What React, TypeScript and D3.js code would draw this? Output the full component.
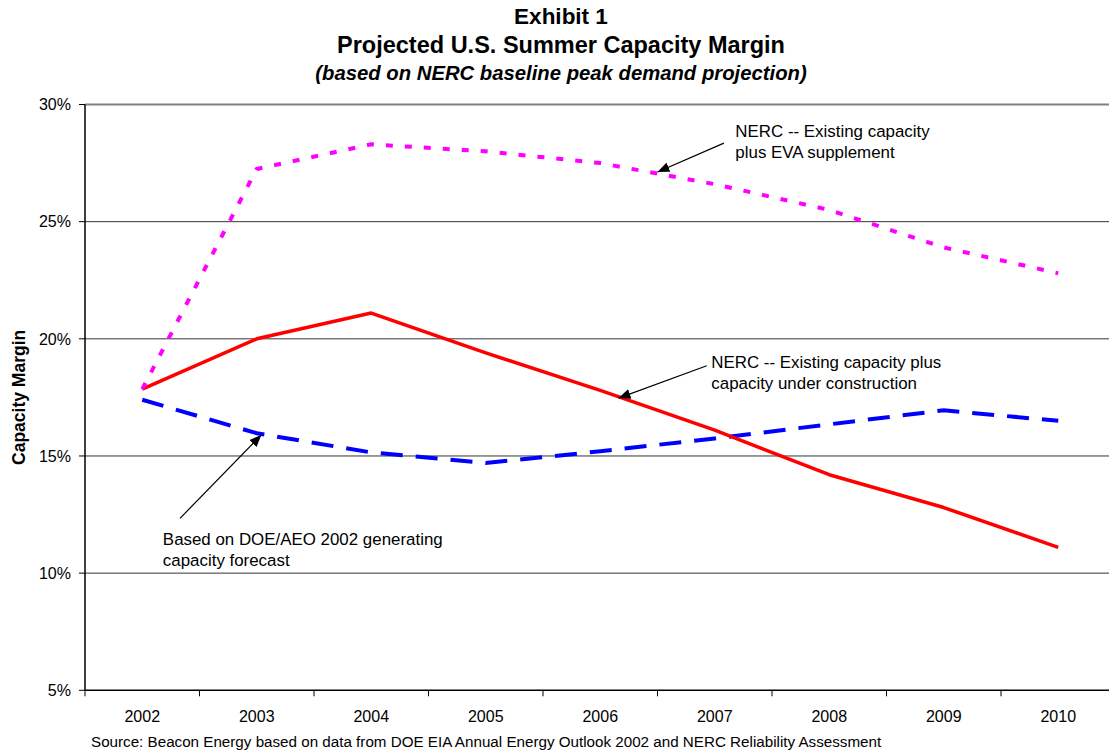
import React from "react";
import * as d3 from "d3";

// Projected U.S. summer capacity margin, percent
const years = ["2002", "2003", "2004", "2005", "2006", "2007", "2008", "2009", "2010"];
const nercEvaSupplement = [17.85, 27.25, 28.3, 28.0, 27.5, 26.6, 25.5, 23.9, 22.8];
const nercUnderConstruction = [17.85, 20.0, 21.1, 19.4, 17.8, 16.1, 14.2, 12.8, 11.1];
const doeAeoForecast = [17.4, 15.97, 15.15, 14.7, 15.2, 15.75, 16.35, 16.95, 16.5];
const yTicks = [5, 10, 15, 20, 25, 30];

// Annotation anchors in data space: [year index, percent]
const annotations = [
  {
    lines: ["NERC -- Existing capacity", "plus EVA supplement"],
    text: [5.18, 28.6],
    from: [5.08, 28.35],
    to: [4.5, 27.12],
  },
  {
    lines: ["NERC -- Existing capacity plus", "capacity under construction"],
    text: [4.97, 18.75],
    from: [4.93, 18.85],
    to: [4.16, 17.47],
  },
  {
    lines: ["Based on DOE/AEO 2002 generating", "capacity forecast"],
    text: [0.18, 11.2],
    from: [0.33, 12.34],
    to: [1.04, 15.9],
  },
];

const W = 1109;
const H = 752;
const left = 85;
const top = 104.5;
const bottom = 690.3;
const band = 114.5;

export default function App() {
  const x = d3
    .scaleLinear()
    .domain([-0.5, years.length - 0.5])
    .range([left, left + band * years.length]);
  const y = d3.scaleLinear().domain([5, 30]).range([bottom, top]);

  const line = d3
    .line<number>()
    .x((_, i) => x(i))
    .y((d) => y(d));

  const font = "'Liberation Sans', Arial, sans-serif";
  const xEnd = x(years.length - 0.5);

  return (
    <div style={{ position: "absolute", left: 0, top: 0 }}>
      <svg width={W} height={H} style={{ display: "block", fontFamily: font }}>
        <defs>
          <marker
            id="arrowHead"
            viewBox="0 0 12 10"
            refX="12"
            refY="5"
            markerWidth="12"
            markerHeight="10"
            markerUnits="userSpaceOnUse"
            orient="auto"
          >
            <path d="M0,0 L12,5 L0,10 Z" fill="#000" />
          </marker>
        </defs>
        <rect width={W} height={H} fill="#fff" />

        {/* Titles */}
        <g textAnchor="middle" fill="#000" fontWeight="bold">
          <text x={561} y={24} fontSize={22.5}>Exhibit 1</text>
          <text x={561} y={53} fontSize={23.5}>Projected U.S. Summer Capacity Margin</text>
          <text x={561} y={80} fontSize={20.3} fontStyle="italic">
            (based on NERC baseline peak demand projection)
          </text>
        </g>

        {/* Gridlines */}
        {yTicks.slice(1).map((t) => (
          <line
            key={t}
            x1={left}
            x2={xEnd}
            y1={y(t)}
            y2={y(t)}
            stroke={t === 30 ? "#808080" : "#333"}
            strokeWidth={t === 30 ? 2 : 1}
          />
        ))}

        {/* Axes */}
        <line x1={left} x2={left} y1={top} y2={bottom} stroke="#000" strokeWidth={1.5} />
        <line x1={left} x2={xEnd} y1={bottom} y2={bottom} stroke="#000" strokeWidth={1.5} />
        {yTicks.map((t) => (
          <g key={t}>
            <line x1={left - 6} x2={left} y1={y(t)} y2={y(t)} stroke="#000" strokeWidth={1} />
            <text x={71} y={y(t)} dy="0.36em" textAnchor="end" fontSize={16} fill="#000">
              {t}%
            </text>
          </g>
        ))}
        {d3.range(years.length + 1).map((i) => (
          <line
            key={i}
            x1={x(i - 0.5)}
            x2={x(i - 0.5)}
            y1={bottom}
            y2={bottom + 6}
            stroke="#000"
            strokeWidth={1}
          />
        ))}
        {years.map((yr, i) => (
          <text key={yr} x={x(i)} y={722} textAnchor="middle" fontSize={16} fill="#000">
            {yr}
          </text>
        ))}

        <text
          transform={`translate(25,${(top + bottom) / 2}) rotate(-90)`}
          textAnchor="middle"
          fontSize={17.5}
          fontWeight="bold"
          fill="#000"
        >
          Capacity Margin
        </text>

        {/* Series */}
        <path
          d={line(doeAeoForecast) ?? ""}
          fill="none"
          stroke="#0000ff"
          strokeWidth={4}
          strokeDasharray="22,13"
        />
        <path
          d={line(nercUnderConstruction) ?? ""}
          fill="none"
          stroke="#ff0000"
          strokeWidth={3.5}
          strokeLinejoin="round"
        />
        <path
          d={line(nercEvaSupplement) ?? ""}
          fill="none"
          stroke="#ff00ff"
          strokeWidth={4}
          strokeDasharray="7,12"
        />

        {/* Annotations */}
        {annotations.map((a, k) => (
          <g key={k}>
            <line
              x1={x(a.from[0])}
              y1={y(a.from[1])}
              x2={x(a.to[0])}
              y2={y(a.to[1])}
              stroke="#000"
              strokeWidth={1.2}
              markerEnd="url(#arrowHead)"
            />
            <text x={x(a.text[0])} y={y(a.text[1])} fontSize={16.9} fill="#000">
              {a.lines.map((l, j) => (
                <tspan key={j} x={x(a.text[0])} dy={j === 0 ? 0 : 21}>
                  {l}
                </tspan>
              ))}
            </text>
          </g>
        ))}

        <text x={91} y={747} fontSize={15.2} fill="#000">
          Source: Beacon Energy based on data from DOE EIA Annual Energy Outlook 2002 and NERC Reliability Assessment
        </text>
      </svg>
    </div>
  );
}
